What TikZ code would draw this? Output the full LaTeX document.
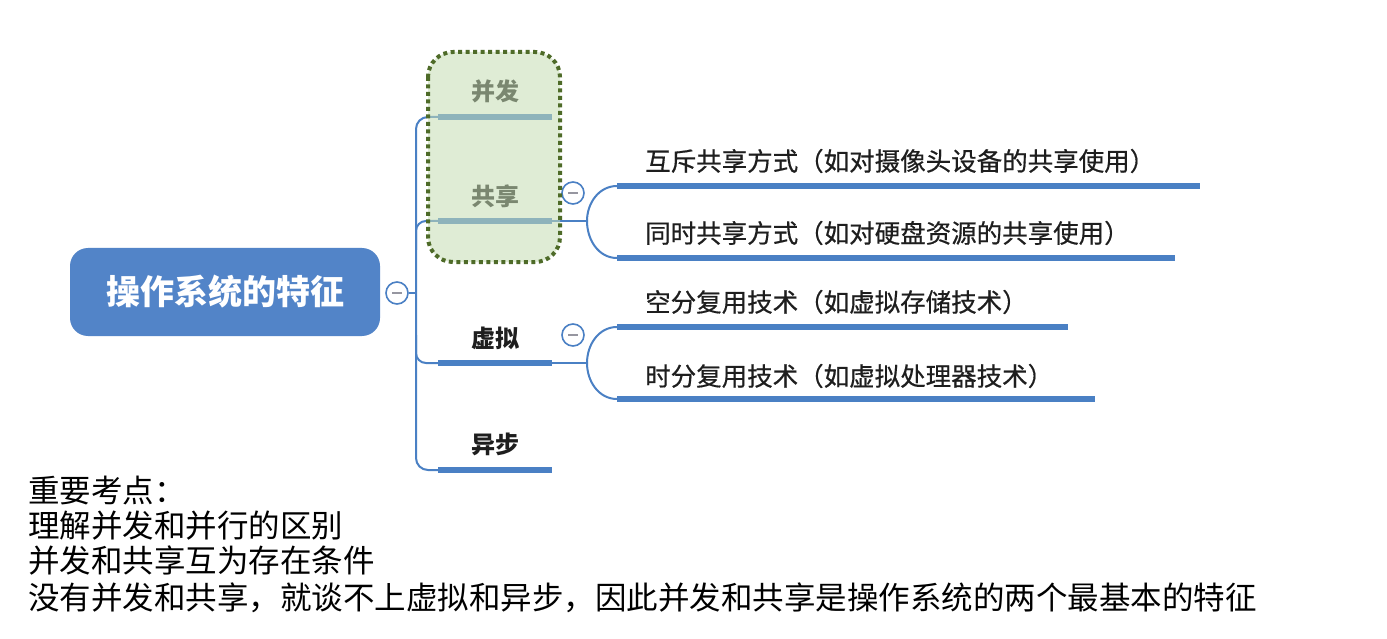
\documentclass[tikz,border=0pt]{standalone}
\usepackage{fontspec}
\setmainfont{Noto Sans CJK SC}
\newfontfamily\cjkmed[FakeBold=0.5]{Noto Sans CJK SC}
\definecolor{mmblue}{RGB}{74,128,196}
\definecolor{rootblue}{RGB}{82,132,200}
\definecolor{togglegray}{RGB}{150,150,160}
\definecolor{ovgreen}{RGB}{198,222,180}
\definecolor{dotgreen}{RGB}{78,107,40}
\definecolor{txt}{RGB}{30,30,30}
\begin{document}
\begin{tikzpicture}[x=1pt,y=-1pt,
  conn/.style={draw=mmblue, line width=2pt},
  bar/.style={draw=mmblue, line width=6pt},
  rootbox/.style={fill=rootblue, rounded corners=18pt, minimum width=310pt, minimum height=88pt, text=white, font=\fontsize{34}{36}\selectfont\bfseries},
  toggle/.style={circle, draw=mmblue, line width=1.6pt, fill=white, minimum size=22pt, inner sep=0pt},
  minus/.style={draw=togglegray, line width=2pt},
  topic/.style={text=txt, font=\fontsize{24}{26}\selectfont\bfseries, inner sep=0pt},
  subtopic/.style={text=txt, font=\fontsize{25.5}{27}\cjkmed, anchor=west, inner sep=0pt},
  note/.style={text=black, font=\fontsize{31.5}{34}\selectfont, anchor=west, inner sep=0pt}
]
\useasboundingbox (0,0) rectangle (1387,639);
\fill[white] (0,0) rectangle (1387,639);

% root
\node[rootbox] (root) at (225,292) {操作系统的特征};
\node[toggle] (rc) at (397,293) {};
\draw[minus] ([xshift=-5pt]rc.center) -- ([xshift=5pt]rc.center);

% bar coordinates of main topics
\coordinate (b1s) at (438,117); \coordinate (b1e) at (552,117);
\coordinate (b2s) at (438,221); \coordinate (b2e) at (552,221);
\coordinate (b3s) at (438,363); \coordinate (b3e) at (552,363);
\coordinate (b4s) at (438,470); \coordinate (b4e) at (552,470);
\coordinate (trk) at (416,293);

% trunk
\draw[conn] (rc.east) -- (trk);
\draw[conn, rounded corners=12pt] (b1s) -- (416,117) -- (416,470) -- (b4s);
\draw[conn, rounded corners=10pt] (416,250) -- (416,221) -- (b2s);
\draw[conn, rounded corners=10pt] (416,335) -- (416,363) -- (b3s);

% main topic bars and labels
\draw[bar] (b1s) -- (b1e);
\draw[bar] (b2s) -- (b2e);
\draw[bar] (b3s) -- (b3e);
\draw[bar] (b4s) -- (b4e);
\node[topic] (bf) at (495,91) {并发};
\node[topic] (gx) at (495,196) {共享};
\node[topic] (xn) at (495,338) {虚拟};
\node[topic] (yb) at (495,444) {异步};

% sharing sub branches
\coordinate (j2) at (587,221);
\coordinate (s1s) at (617,186); \coordinate (s1e) at (1200,186);
\coordinate (s2s) at (617,258); \coordinate (s2e) at (1175,258);
\draw[conn] (b2e) -- (j2);
\draw[conn] (j2) to[out=90,in=180] (s1s);
\draw[conn] (j2) to[out=-90,in=180] (s2s);
\draw[bar] (s1s) -- (s1e);
\draw[bar] (s2s) -- (s2e);
\node[subtopic] (t1) at (645,161) {互斥共享方式（如对摄像头设备的共享使用）};
\node[subtopic] (t2) at (645,233) {同时共享方式（如对硬盘资源的共享使用）};
\node[toggle] (gc) at (573,193) {};
\draw[minus] ([xshift=-5pt]gc.center) -- ([xshift=5pt]gc.center);

% virtual sub branches
\coordinate (j3) at (587,363);
\coordinate (s3s) at (617,327); \coordinate (s3e) at (1068,327);
\coordinate (s4s) at (617,399); \coordinate (s4e) at (1095,399);
\draw[conn] (b3e) -- (j3);
\draw[conn] (j3) to[out=90,in=180] (s3s);
\draw[conn] (j3) to[out=-90,in=180] (s4s);
\draw[bar] (s3s) -- (s3e);
\draw[bar] (s4s) -- (s4e);
\node[subtopic] (t3) at (645,302) {空分复用技术（如虚拟存储技术）};
\node[subtopic] (t4) at (645,376) {时分复用技术（如虚拟处理器技术）};
\node[toggle] (vc) at (573,335) {};
\draw[minus] ([xshift=-5pt]vc.center) -- ([xshift=5pt]vc.center);

% green highlight box
\fill[ovgreen, fill opacity=0.55, rounded corners=25pt] (428,52) rectangle (560,262);
\draw[dotgreen, line width=4pt, dash pattern=on 4pt off 3.5pt, rounded corners=25pt] (428,52) rectangle (560,262);

% notes
\node[note] (n1) at (28,491) {重要考点：};
\node[note] (n2) at (28,526) {理解并发和并行的区别};
\node[note] (n3) at (28,561) {并发和共享互为存在条件};
\node[note] (n4) at (28,598) {没有并发和共享，就谈不上虚拟和异步，因此并发和共享是操作系统的两个最基本的特征};
\end{tikzpicture}
\end{document}
